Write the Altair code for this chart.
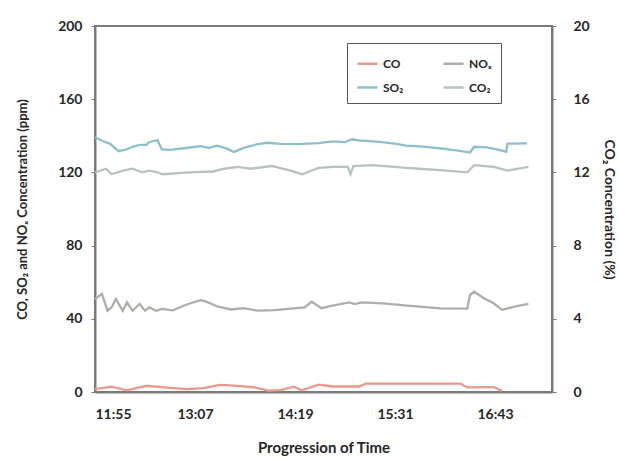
import altair as alt
import pandas as pd

# ---- data (time of day, value) ----
co_times = ["11:55", "12:07", "12:18", "12:32", "12:47", "13:01", "13:13", "13:25", "13:35",
            "13:49", "14:00", "14:09", "14:18", "14:24", "14:36", "14:46", "15:05", "15:10",
            "16:18", "16:23", "16:42", "16:48"]
co_ppm = [1.6, 2.9, 0.9, 3.4, 2.4, 1.6, 2.1, 3.9, 3.5,
          2.6, 0.7, 1.0, 2.9, 0.9, 4.0, 3.0, 3.0, 4.6,
          4.6, 2.5, 2.7, 0.5]

nox_times = ["11:55", "12:00", "12:04", "12:07", "12:10", "12:15", "12:18", "12:22", "12:27",
             "12:31", "12:34", "12:39", "12:43", "12:51", "13:01", "13:11", "13:14", "13:23",
             "13:33", "13:42", "13:52", "14:04", "14:16", "14:26", "14:31", "14:38", "14:46",
             "14:58", "15:02", "15:07", "15:22", "15:44", "16:04", "16:23", "16:25", "16:28",
             "16:35", "16:42", "16:48", "16:57", "17:07"]
nox_ppm = [50.8, 53.6, 44.4, 46.3, 50.8, 44.4, 49.0, 44.4, 48.1,
           44.4, 46.3, 44.4, 45.4, 44.6, 47.8, 50.2, 49.7, 46.8,
           45.1, 45.8, 44.5, 44.7, 45.6, 46.3, 49.4, 45.8, 47.2,
           49.0, 48.0, 49.0, 48.4, 46.9, 45.7, 45.6, 53.0, 54.8,
           51.2, 48.5, 44.9, 46.7, 48.2]

so2_times = ["11:55", "12:00", "12:06", "12:10", "12:12", "12:17", "12:22", "12:27", "12:32",
             "12:34", "12:40", "12:43", "12:49", "12:59", "13:11", "13:17", "13:23", "13:30",
             "13:35", "13:42", "13:52", "13:59", "14:09", "14:21", "14:36", "14:46", "14:55",
             "15:00", "15:05", "15:20", "15:32", "15:39", "15:51", "16:03", "16:15", "16:25",
             "16:28", "16:37", "16:45", "16:51", "16:52", "17:06"]
so2_ppm = [139.2, 137.3, 135.6, 132.9, 131.6, 132.4, 134.0, 135.0, 135.0,
           136.5, 137.7, 132.6, 132.3, 133.2, 134.3, 133.4, 134.6, 133.0,
           131.1, 133.4, 135.4, 136.2, 135.6, 135.4, 136.0, 136.9, 136.5,
           138.1, 137.5, 136.7, 135.6, 134.6, 134.1, 133.2, 132.0, 130.9,
           134.0, 133.7, 132.4, 131.3, 135.7, 135.9]

co2_times = ["11:55", "12:03", "12:07", "12:15", "12:22", "12:29", "12:34", "12:40", "12:44",
             "13:03", "13:20", "13:28", "13:38", "13:47", "14:02", "14:16", "14:24", "14:36",
             "14:46", "14:57", "14:59", "15:01", "15:15", "15:39", "15:49", "16:08", "16:23",
             "16:28", "16:42", "16:52", "17:07"]
co2_pct = [12.0, 12.2, 11.9, 12.1, 12.2, 12.0, 12.1, 12.0, 11.9,
           12.0, 12.05, 12.2, 12.3, 12.2, 12.35, 12.1, 11.9, 12.25,
           12.3, 12.3, 11.9, 12.35, 12.4, 12.25, 12.2, 12.1, 12.0,
           12.4, 12.3, 12.1, 12.3]

# legend fills column by column: CO, SO2 (col 1) / NOx, CO2 (col 2)
series_names = ["CO", "SO₂", "NOₓ", "CO₂"]
series_colors = ["#e8998b", "#8cbfcc", "#b0aca8", "#b7c2be"]

x_tick_labels = ["11:55", "13:07", "14:19", "15:31", "16:43"]
x_start, x_end = "11:55", "17:24"
left_ticks = [0, 40, 80, 120, 160, 200]
right_ticks = [0, 4, 8, 12, 16, 20]


def to_min(t):
    h, m = t.split(":")
    return int(h) * 60 + int(m)


rows = []
for name, times, vals in [("CO", co_times, co_ppm), ("NOₓ", nox_times, nox_ppm),
                          ("SO₂", so2_times, so2_ppm), ("CO₂", co2_times, co2_pct)]:
    for i, (t, v) in enumerate(zip(times, vals)):
        rows.append({"series": name, "t": to_min(t), "v": v, "order": i})
df = pd.DataFrame(rows)

FONT = "Lato"
TXT = "#262626"
AX = "#7a7a7a"

color = alt.Color(
    "series:N",
    scale=alt.Scale(domain=series_names, range=series_colors),
    sort=series_names,
    legend=alt.Legend(
        title=None, orient="none", legendX=252, legendY=17, columns=2,
        symbolType="stroke", symbolSize=400, symbolStrokeWidth=2.5,
        strokeColor="#555555", fillColor="white", padding=9,
        columnPadding=34, rowPadding=6, labelFont=FONT, labelFontSize=12,
        labelFontWeight="bold", labelColor=TXT,
    ),
)

x = alt.X(
    "t:Q",
    scale=alt.Scale(domain=[to_min(x_start), to_min(x_end)], nice=False, zero=False),
    axis=alt.Axis(
        values=[to_min(t) for t in x_tick_labels],
        labelExpr="floor(datum.value/60) + ':' + (datum.value % 60 < 10 ? '0' : '') + (datum.value % 60)",
        title="Progression of Time", grid=False, tickSize=0, labelPadding=15,
        titlePadding=19, labelFont=FONT, labelFontSize=14, labelFontWeight="bold",
        titleFont=FONT, titleFontSize=15, titleFontWeight="bold",
        labelColor=TXT, titleColor=TXT, domainColor=AX, domainWidth=2,
    ),
)

left = alt.Chart(df).transform_filter(
    alt.FieldOneOfPredicate(field="series", oneOf=["CO", "NOₓ", "SO₂"])
).mark_line(strokeWidth=2.3, interpolate="linear").encode(
    x=x,
    y=alt.Y(
        "v:Q",
        scale=alt.Scale(domain=[0, 200], nice=False),
        axis=alt.Axis(
            values=left_ticks, grid=False, orient="left",
            title="CO, SO₂ and NOₓ Concentration (ppm)",
            tickSize=4, tickColor=AX, labelPadding=9, titlePadding=28,
            labelFont=FONT, labelFontSize=14, labelFontWeight="bold",
            titleFont=FONT, titleFontSize=13, titleFontWeight="bold",
            labelColor=TXT, titleColor=TXT, domainColor=AX, domainWidth=2,
        ),
    ),
    color=color,
    detail="series:N",
    order="order:Q",
)

right = alt.Chart(df).transform_filter(
    alt.FieldEqualPredicate(field="series", equal="CO₂")
).mark_line(strokeWidth=2.3).encode(
    x=x,
    y=alt.Y(
        "v:Q",
        scale=alt.Scale(domain=[0, 20], nice=False),
        axis=alt.Axis(
            values=right_ticks, grid=False, orient="right",
            title="CO₂ Concentration (%)",
            tickSize=4, tickColor=AX, labelPadding=17, titlePadding=12,
            labelFont=FONT, labelFontSize=14, labelFontWeight="bold",
            titleFont=FONT, titleFontSize=14, titleFontWeight="bold",
            labelColor=TXT, titleColor=TXT, domainColor=AX, domainWidth=2,
        ),
    ),
    color=color,
    order="order:Q",
)

chart = alt.layer(right, left).resolve_scale(y="independent").properties(
    width=457, height=366,
    autosize=alt.AutoSizeParams(type="none"),
    padding={"left": 95, "top": 26, "right": 67, "bottom": 66},
    background="white",
).configure_view(stroke=AX, strokeWidth=2)

chart.save("out.html", embed_options={"renderer": "svg", "actions": False})
